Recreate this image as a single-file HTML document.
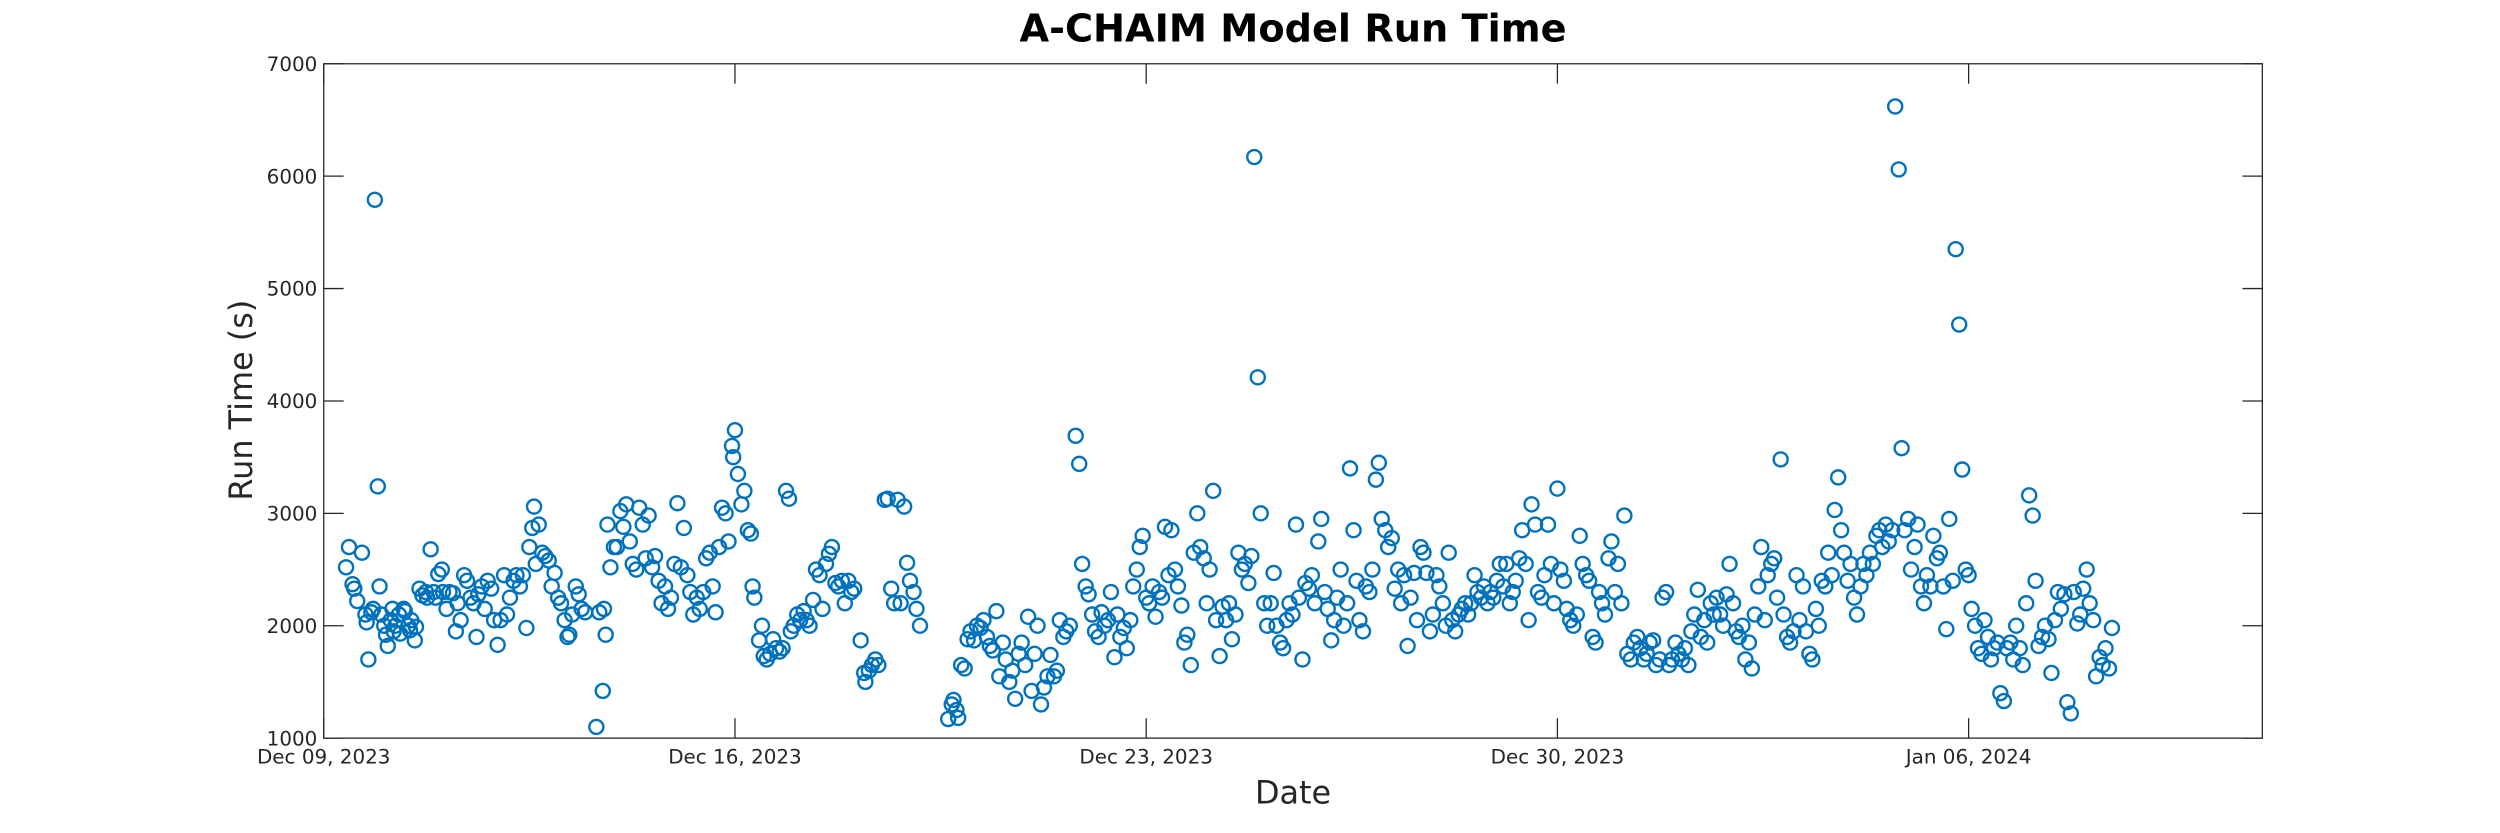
<!DOCTYPE html>
<html>
<head>
<meta charset="utf-8">
<title>A-CHAIM Model Run Time</title>
<style>
  html, body { margin: 0; padding: 0; background: #ffffff; }
  svg { display: block; }
  text { font-family: "DejaVu Sans", "Liberation Sans", sans-serif; fill: #262626; }
</style>
</head>
<body>
<svg id="chart" width="2500" height="833" viewBox="0 0 1568 522.5" xmlns="http://www.w3.org/2000/svg">
  <rect x="0" y="0" width="1568" height="522.5" fill="#ffffff"/>
  <text x="811" y="26" text-anchor="middle" font-size="24" font-weight="bold" style="fill:#000">A-CHAIM Model Run Time</text>
  <text x="0" y="0" transform="translate(158,251) rotate(-90)" text-anchor="middle" font-size="20">Run Time (s)</text>
  <text x="811" y="504" text-anchor="middle" font-size="20">Date</text>
  <g id="axes"></g>
  <g id="points"></g>
  <rect x="203" y="40" width="1216" height="423" fill="none" stroke="#262626" stroke-width="0.8"/>
</svg>
<script>
// Tick labels
const yTicks = [1000, 2000, 3000, 4000, 5000, 6000, 7000];
const xTickDays = [0, 7, 14, 21, 28];
const xTickLabels = ["Dec 09, 2023", "Dec 16, 2023", "Dec 23, 2023", "Dec 30, 2023", "Jan 06, 2024"];

// Days since Dec 09, 2023 00:00
const runDays = [
  .38,.43,.49,.52,.57,.65,.71,.73,.76,.81,.84,.87,.92,.95,.98,1.03,1.06,1.09,1.14,1.17,1.19,1.22,1.28,1.30,1.36,1.38,1.44,1.47,1.49,1.55,1.57,1.63,1.68,1.74,1.76,1.82,1.87,1.90,1.95,2.01,2.03,2.09,2.14,2.20,2.25,2.28,2.33,2.39,2.44,2.50,2.55,2.60,2.63,
  2.69,2.74,2.79,2.85,2.90,2.96,3.01,3.07,3.12,3.17,3.23,3.28,3.34,3.39,3.45,3.50,3.55,3.58,3.61,3.66,3.72,3.77,3.83,3.88,3.93,3.99,4.04,4.10,4.15,4.18,4.23,4.29,4.34,4.39,4.45,4.64,4.69,4.75,4.77,4.80,4.83,4.88,4.94,4.99,5.05,5.10,5.15,5.21,5.26,5.32,
  5.37,5.43,5.48,5.53,5.59,5.64,5.70,5.75,5.81,5.86,5.91,5.97,6.02,6.08,6.13,6.19,6.24,6.29,6.35,6.40,6.46,6.51,6.57,6.62,6.67,6.73,6.78,6.84,6.89,6.95,6.97,7.00,7.05,7.11,7.16,7.22,7.27,
  7.30,7.33,7.41,7.46,7.49,7.54,7.60,7.65,7.70,7.76,7.81,7.87,7.92,7.95,8.00,8.06,8.11,8.17,8.22,8.27,8.33,8.38,8.44,8.49,8.55,8.60,8.65,8.71,8.76,8.82,8.87,8.93,8.98,9.03,9.14,9.20,9.22,9.28,9.33,9.39,9.44,9.55,9.60,9.66,9.71,9.77,9.82,9.88,9.93,9.98,10.04,10.09,10.15,
  10.63,10.69,10.72,10.77,10.80,10.85,10.91,10.96,11.01,11.07,11.12,11.18,11.23,11.29,11.34,11.39,11.45,11.50,11.56,11.61,11.67,11.72,11.77,11.83,11.88,11.94,11.99,12.05,12.10,12.15,12.21,12.26,12.32,12.37,12.43,12.48,12.53,12.59,12.64,12.70,12.80,12.86,12.91,12.97,13.02,13.08,13.13,13.19,13.24,13.29,13.35,13.40,13.46,13.51,13.56,13.62,13.67,13.73,13.78,13.84,13.89,13.94,14.00,
  14.05,14.11,14.16,14.22,14.27,14.32,14.38,14.43,14.49,14.54,14.60,14.65,14.70,14.76,14.81,14.87,14.92,14.98,15.03,15.08,15.14,15.19,15.25,15.30,15.36,15.41,15.46,15.52,15.57,15.63,15.68,15.74,15.79,15.84,15.90,15.95,16.01,16.06,16.12,16.17,
  16.22,16.28,16.33,16.39,16.44,16.49,16.55,16.60,16.66,16.71,16.77,16.82,16.87,16.93,16.98,17.04,17.09,17.15,17.20,17.25,17.31,17.36,17.42,17.47,17.53,17.58,17.63,17.69,17.74,17.80,17.85,17.91,17.96,18.01,18.07,18.12,18.18,18.23,18.29,18.34,18.39,18.45,18.50,18.56,18.61,18.67,18.72,18.77,18.83,18.88,
  18.94,18.99,19.05,19.10,19.15,19.21,19.26,19.32,19.37,19.43,19.48,19.53,19.59,19.64,19.70,19.75,19.81,19.86,19.91,19.97,20.02,20.08,20.13,20.19,20.24,20.29,20.35,20.40,20.46,20.51,20.56,20.62,20.67,20.73,20.78,20.84,20.89,20.94,21.00,
  21.05,21.11,21.16,21.22,21.27,21.33,21.38,21.43,21.49,21.54,21.60,21.65,21.71,21.76,21.81,21.87,21.92,21.98,22.03,22.09,22.14,22.19,22.25,22.30,22.36,22.41,22.47,22.52,22.57,22.63,22.68,22.74,22.79,22.85,22.90,22.95,23.01,23.06,23.12,23.17,23.23,23.28,23.33,23.39,23.44,23.50,23.55,23.61,23.66,23.71,23.77,23.82,23.88,23.93,23.99,24.04,24.09,24.15,24.20,24.26,24.31,
  24.36,24.42,24.47,24.53,24.58,24.64,24.69,24.74,24.80,24.85,24.91,24.96,25.02,25.07,25.12,25.18,25.23,25.29,25.34,25.40,25.45,25.50,25.56,25.61,25.67,25.72,25.78,25.83,25.88,25.94,25.99,26.05,26.10,26.16,26.21,26.26,26.32,26.37,26.43,26.48,
  26.53,26.59,26.64,26.70,26.75,26.81,26.86,26.91,26.97,27.02,27.08,27.13,27.19,27.24,27.29,27.35,27.40,27.46,27.51,27.57,27.62,27.67,27.73,27.78,27.84,27.89,27.95,28.00,28.05,28.11,28.16,
  28.22,28.27,28.33,28.38,28.43,28.49,28.54,28.60,28.65,28.71,28.76,28.81,28.87,28.92,28.98,29.03,29.09,29.14,29.19,29.25,29.30,29.36,29.41,29.47,29.52,29.57,29.63,29.68,29.74,29.79,29.85,29.90,29.95,30.01,30.06,30.12,30.17,30.23,30.28,30.33,30.39,30.44
];

// Run time in seconds
const runTimes = [
  2520,2700,2370,2330,2220,2650,2100,2030,1700,2120,2150,5790,3240,2350,2100,2000,1920,1820,2050,2150,1950,2000,2100,1930,2150,2130,2000,1960,2050,1870,1990,2330,2270,2300,2250,2680,2300,2250,2460,2500,2300,2150,2300,2290,1950,2200,2050,2450,2400,2250,2200,1900,2280,
  2350,2150,2400,2330,2050,1830,2050,2450,2100,2250,2400,2450,2350,2450,1980,2700,2870,3060,2550,2900,2650,2620,2580,2350,2470,2250,2200,2050,1900,1920,2100,2350,2280,2150,2120,1100,2120,1420,2150,1920,2900,2520,2700,2700,3020,2880,3080,2750,2550,2500,
  3050,2900,2600,2980,2520,2620,2400,2200,2350,2150,2250,2550,3090,2520,2870,2450,2300,2100,2250,2150,2300,2600,2650,2350,2120,2700,3050,3000,2750,3600,3500,3740,3350,3080,3200,2850,2820,
  2350,2250,1870,2000,1730,1700,1750,1880,1800,1770,1800,3200,3130,1950,2000,2100,2050,2130,2050,2000,2230,2500,2450,2150,2550,2640,2700,2380,2350,2400,2200,2400,2300,2330,1870,1580,1500,1600,1650,1700,1650,3120,3130,2330,2200,3120,2200,3060,2560,2400,2300,2150,2000,
  1170,1300,1340,1250,1180,1650,1620,1880,1950,1870,2000,1980,2050,1900,1820,1780,2130,1550,1850,1700,1500,1600,1350,1750,1850,1650,2080,1420,1750,2000,1300,1450,1550,1740,1550,1600,2050,1900,1950,2000,3690,3440,2550,2350,2280,2100,1950,1900,2120,2000,2050,2300,1720,2100,1900,1980,1800,2050,2350,2500,2700,2800,2250,
  2200,2350,2080,2300,2250,2880,2450,2850,2500,2350,2180,1850,1920,1650,2650,3000,2700,2600,2200,2500,3200,2050,1730,2170,2050,2200,1880,2100,2650,2500,2550,2380,2620,6170,4210,3000,2200,2000,2200,2470,
  2000,1850,1800,2050,2200,2100,2900,2250,1700,2380,2330,2450,2200,2750,2950,2300,2150,1870,2050,2250,2500,2000,2200,3400,2850,2400,2050,1950,2350,2300,2500,3300,3450,2950,2850,2700,2780,2330,2500,2200,2450,1820,2250,2470,2050,2700,2650,2470,1950,2100,
  2450,2350,2200,2000,2650,2050,1950,2100,2150,2200,2100,2200,2450,2300,2250,2350,2200,2300,2250,2400,2550,2350,2550,2200,2300,2400,2600,2850,2550,2050,3080,2900,2300,2250,2450,2900,2550,2200,3220,
  2500,2400,2150,2050,2000,2100,2800,2550,2450,2400,1900,1850,2300,2200,2100,2600,2750,2300,2550,2200,2980,1750,1700,1850,1900,1800,1700,1750,1850,1870,1650,1700,2250,2300,1650,1700,1850,1750,1700,1800,1650,1950,2100,2320,1900,2050,1850,2200,2100,2250,2100,2000,2280,2550,2200,1950,1900,2000,1700,1850,1620,
  2100,2350,2700,2050,2450,2550,2600,2250,3480,2100,1900,1850,1950,2450,2050,2350,1950,1750,1700,2150,2000,2400,2350,2650,2450,3030,3320,2850,2650,2400,2550,2250,2100,2350,2550,2450,2650,2550,2800,2850,
  2700,2900,2750,2850,6620,6060,3580,2850,2950,2500,2700,2900,2350,2200,2450,2350,2800,2600,2650,2350,1970,2950,2400,5350,4680,3390,2500,2450,2150,2000,1800,
  1750,2050,1900,1700,1800,1850,1400,1330,1800,1850,1700,2000,1800,1650,2200,3160,2980,2400,1820,1900,2000,1880,1580,2050,2300,2150,2280,1320,1220,2300,2020,2100,2330,2500,2200,2050,1550,1720,1650,1800,1620,1980
];

const NS = "http://www.w3.org/2000/svg";
const plot = { left: 203, right: 1419, top: 40, bottom: 463 };
const xDomain = [0, 33];
const yDomain = [1000, 7000];
function xScale(d) { return plot.left + (d - xDomain[0]) / (xDomain[1] - xDomain[0]) * (plot.right - plot.left); }
function yScale(v) { return plot.bottom - (v - yDomain[0]) / (yDomain[1] - yDomain[0]) * (plot.bottom - plot.top); }

const axes = document.getElementById("axes");
const TL = 12.5;
yTicks.forEach(function (v) {
  const y = yScale(v);
  const t1 = document.createElementNS(NS, "line");
  t1.setAttribute("x1", plot.left); t1.setAttribute("x2", plot.left + TL);
  t1.setAttribute("y1", y); t1.setAttribute("y2", y);
  t1.setAttribute("stroke", "#262626"); t1.setAttribute("stroke-width", "0.8");
  
  
  axes.appendChild(t1);
  const t2 = document.createElementNS(NS, "line");
  t2.setAttribute("x1", plot.right - TL); t2.setAttribute("x2", plot.right);
  t2.setAttribute("y1", y); t2.setAttribute("y2", y);
  t2.setAttribute("stroke", "#262626"); t2.setAttribute("stroke-width", "0.8");
  
  
  axes.appendChild(t2);
  const lab = document.createElementNS(NS, "text");
  lab.setAttribute("x", plot.left - 4);
  lab.setAttribute("y", y + 4.5);
  lab.setAttribute("text-anchor", "end");
  lab.setAttribute("font-size", "12.5");
  lab.textContent = String(v);
  
  
  axes.appendChild(lab);
});
xTickDays.forEach(function (d, i) {
  const x = xScale(d);
  const t1 = document.createElementNS(NS, "line");
  t1.setAttribute("x1", x); t1.setAttribute("x2", x);
  t1.setAttribute("y1", plot.bottom); t1.setAttribute("y2", plot.bottom - TL);
  t1.setAttribute("stroke", "#262626"); t1.setAttribute("stroke-width", "0.8");
  
  
  axes.appendChild(t1);
  const t2 = document.createElementNS(NS, "line");
  t2.setAttribute("x1", x); t2.setAttribute("x2", x);
  t2.setAttribute("y1", plot.top); t2.setAttribute("y2", plot.top + TL);
  t2.setAttribute("stroke", "#262626"); t2.setAttribute("stroke-width", "0.8");
  
  
  axes.appendChild(t2);
  const lab = document.createElementNS(NS, "text");
  lab.setAttribute("x", x);
  lab.setAttribute("y", plot.bottom + 16);
  lab.setAttribute("text-anchor", "middle");
  lab.setAttribute("font-size", "12.5");
  lab.textContent = xTickLabels[i];
  
  
  axes.appendChild(lab);
});

const pts = document.getElementById("points");
const n = Math.min(runDays.length, runTimes.length);
for (let i = 0; i < n; i++) {
  const c = document.createElementNS(NS, "circle");
  c.setAttribute("cx", xScale(runDays[i]).toFixed(2));
  c.setAttribute("cy", yScale(runTimes[i]).toFixed(2));
  c.setAttribute("r", "4.4");
  c.setAttribute("fill", "none");
  c.setAttribute("stroke", "#0072BD");
  c.setAttribute("stroke-width", "1.5");
  
  
  pts.appendChild(c);
}
</script>
</body>
</html>
